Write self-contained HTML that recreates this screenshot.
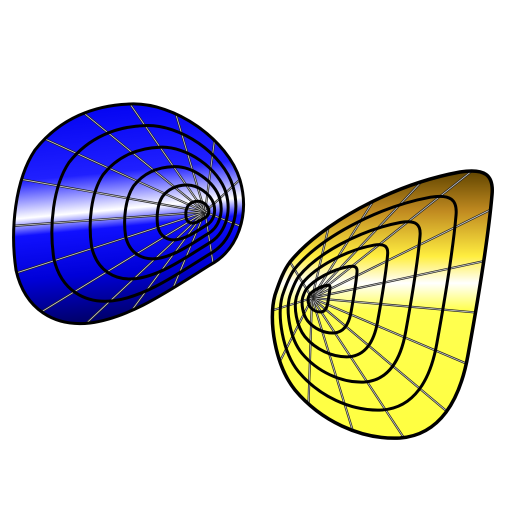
<!DOCTYPE html>
<html><head><meta charset="utf-8"><style>body{margin:0;background:#fff}svg{display:block}</style></head>
<body>
<svg id="s" width="512" height="512" viewBox="0 0 512 512">
<defs>
<linearGradient id="gb" x1="0" y1="0" x2="0.1" y2="1">
<stop offset="0" stop-color="#0000f0"/><stop offset="0.35" stop-color="#2020ff"/><stop offset="0.52" stop-color="#ffffff"/><stop offset="0.6" stop-color="#1010ff"/><stop offset="0.8" stop-color="#0000d8"/><stop offset="1" stop-color="#000070"/>
</linearGradient>
<linearGradient id="gy" x1="0" y1="0" x2="0" y2="1">
<stop offset="0" stop-color="#604400"/><stop offset="0.15" stop-color="#c08a20"/><stop offset="0.32" stop-color="#ffee40"/><stop offset="0.42" stop-color="#ffffff"/><stop offset="0.52" stop-color="#ffff50"/><stop offset="1" stop-color="#ffff40"/>
</linearGradient>
<clipPath id="cb"><path id="pb" d="M130,104 C175,102 228,140 240,180 C250,215 238,250 210,265 C170,290 130,318 90,323 C55,327 25,310 16,270 C10,230 15,180 35,150 C60,118 95,105 130,104 Z"/></clipPath>
<clipPath id="cy"><path id="py" d="M290,262 C320,225 390,185 460,172 C485,168 494,175 492,195 C488,240 478,300 468,355 C460,400 440,435 400,438 C360,440 320,420 295,390 C275,365 268,320 275,295 C280,280 284,270 290,262 Z"/></clipPath>
</defs>
<g>
<path d="M130,104 C175,102 228,140 240,180 C250,215 238,250 210,265 C170,290 130,318 90,323 C55,327 25,310 16,270 C10,230 15,180 35,150 C60,118 95,105 130,104 Z" fill="url(#gb)"/>
<g id="gridb" clip-path="url(#cb)"></g>
<path d="M130,104 C175,102 228,140 240,180 C250,215 238,250 210,265 C170,290 130,318 90,323 C55,327 25,310 16,270 C10,230 15,180 35,150 C60,118 95,105 130,104 Z" fill="none" stroke="#000" stroke-width="3"/>
</g>
<g>
<path d="M290,262 C320,225 390,185 460,172 C485,168 494,175 492,195 C488,240 478,300 468,355 C460,400 440,435 400,438 C360,440 320,420 295,390 C275,365 268,320 275,295 C280,280 284,270 290,262 Z" fill="url(#gy)"/>
<g id="gridy" clip-path="url(#cy)"></g>
<path d="M290,262 C320,225 390,185 460,172 C485,168 494,175 492,195 C488,240 478,300 468,355 C460,400 440,435 400,438 C360,440 320,420 295,390 C275,365 268,320 275,295 C280,280 284,270 290,262 Z" fill="none" stroke="#000" stroke-width="3.5"/>
</g>
</svg>
<script>
const ringScales=[0.8,0.6,0.42,0.25,0.1];
const radialCount=[15,15];
const NS="http://www.w3.org/2000/svg";
function grid(gid,pid,cx,cy,n){
  const g=document.getElementById(gid), p=document.getElementById(pid);
  const L=p.getTotalLength();
  for(let i=0;i<n;i++){
    const pt=p.getPointAtLength(L*i/n);
    const l=document.createElementNS(NS,'line');
    
    
    l.setAttribute('x1',cx);l.setAttribute('y1',cy);
    l.setAttribute('x2',cx+(pt.x-cx)*1.3);l.setAttribute('y2',cy+(pt.y-cy)*1.3);
    l.setAttribute('stroke','#222');l.setAttribute('stroke-width','2.2');
    g.appendChild(l);
    const l2=l.cloneNode();l2.setAttribute('stroke','#ccc');l2.setAttribute('stroke-width','0.8');g.appendChild(l2);
  }
  ringScales.forEach(s=>{
    const r=document.createElementNS(NS,'path');
    
    
    r.setAttribute('d',p.getAttribute('d'));
    r.setAttribute('fill','none');r.setAttribute('stroke','#000');r.setAttribute('stroke-width','3');
    r.setAttribute('vector-effect','non-scaling-stroke');
    r.setAttribute('transform',`translate(${cx},${cy}) scale(${s}) translate(${-cx},${-cy})`);
    g.appendChild(r);
  });
}
grid('gridb','pb',205,212,radialCount[0]);
grid('gridy','py',312,298,radialCount[1]);
</script>
</body></html>
